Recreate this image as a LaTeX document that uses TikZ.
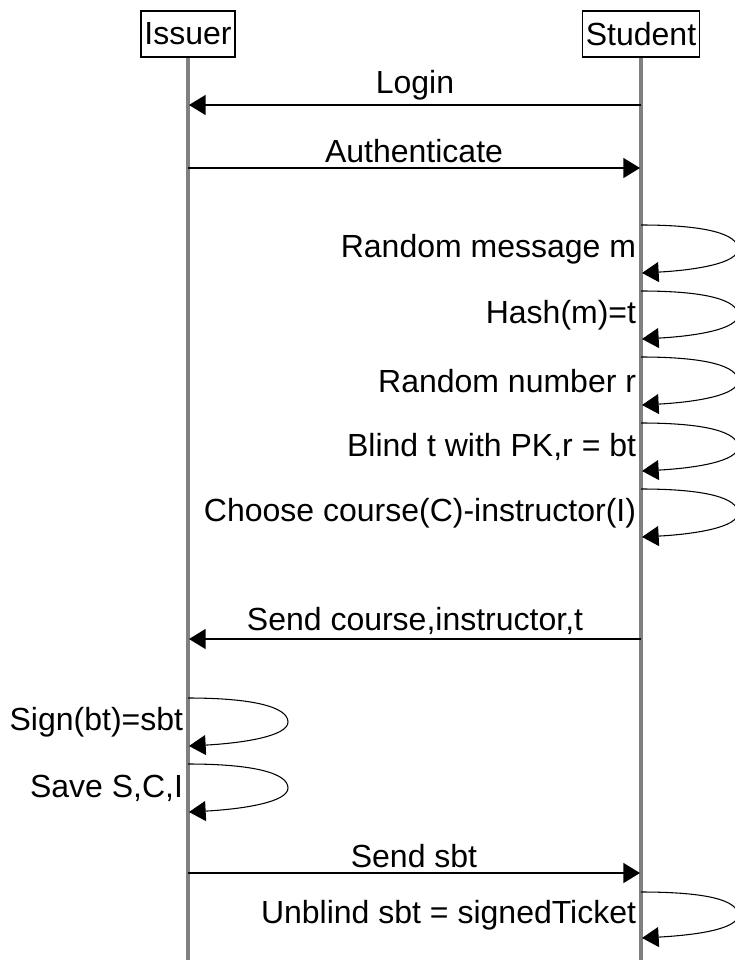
\documentclass[tikz,border=0pt]{standalone}
\usepackage{fontspec}
\setmainfont{Liberation Sans}
\usetikzlibrary{arrows.meta}

\begin{document}
\begin{tikzpicture}[x=0.75pt,y=0.75pt,yscale=-1,xscale=1,
        font=\fontsize{24}{28}\selectfont,
        actor/.style={draw,line width=1.1pt,inner xsep=2.5pt,inner ysep=0pt,minimum height=34.5pt},
        lifeline/.style={draw=gray,line width=2.3pt},
        msg/.style={line width=1.1pt,-{Triangle[length=12.5pt,width=15pt]}},
        selfmsg/.style={line width=0.8pt,-{Triangle[length=12.5pt,width=15pt]}},
        msglabel/.style={above,inner sep=3pt},
        looplabel/.style={anchor=east,inner sep=2pt}]
        \useasboundingbox (0,0) rectangle (735,960);

        %Actors
        \node[actor] (issuer) at (188,34) {Issuer};
        \node[actor] (student) at (641,34) {Student};
        %Lifelines
        \coordinate (issuerend) at (188,962);
        \coordinate (studentend) at (641,962);
        \draw[lifeline] (issuer.south) -- (issuerend);
        \draw[lifeline] (student.south) -- (studentend);

        %Message: Login
        \coordinate (loginS) at (641,105);
        \coordinate (loginI) at (189,105);
        \draw[msg] (loginS) -- node[msglabel] (login) {Login} (loginI);
        %Message: Authenticate
        \coordinate (authI) at (188,168);
        \coordinate (authS) at (640,168);
        \draw[msg] (authI) -- node[msglabel] (auth) {Authenticate} (authS);

        %Self Message: Random message m
        \coordinate (rmTop) at (641,225);
        \coordinate (rmOut) at (738,249);
        \coordinate (rmEnd) at (642,273);
        \draw[selfmsg] (rmTop) .. controls +(65,0) and +(0,-15) .. (rmOut) .. controls +(0,14) and +(55,-3) .. (rmEnd);
        \node[looplabel] (rm) at (639,249) {Random message m};
        %Self Message: Hash
        \coordinate (hashTop) at (641,291);
        \coordinate (hashOut) at (738,315);
        \coordinate (hashEnd) at (642,339);
        \draw[selfmsg] (hashTop) .. controls +(65,0) and +(0,-15) .. (hashOut) .. controls +(0,14) and +(55,-3) .. (hashEnd);
        \node[looplabel] (hash) at (639,315) {Hash(m)=t};
        %Self Message: Random number r
        \coordinate (rnTop) at (641,357);
        \coordinate (rnOut) at (738,381);
        \coordinate (rnEnd) at (642,405);
        \draw[selfmsg] (rnTop) .. controls +(65,0) and +(0,-15) .. (rnOut) .. controls +(0,14) and +(55,-3) .. (rnEnd);
        \node[looplabel] (rn) at (639,381) {Random number r};
        %Self Message: Blind
        \coordinate (blindTop) at (641,423);
        \coordinate (blindOut) at (738,447);
        \coordinate (blindEnd) at (642,471);
        \draw[selfmsg] (blindTop) .. controls +(65,0) and +(0,-15) .. (blindOut) .. controls +(0,14) and +(55,-3) .. (blindEnd);
        \node[looplabel] (blind) at (639,447) {Blind t with PK,r = bt};
        %Self Message: Choose
        \coordinate (chooseTop) at (641,489);
        \coordinate (chooseOut) at (738,513);
        \coordinate (chooseEnd) at (642,537);
        \draw[selfmsg] (chooseTop) .. controls +(65,0) and +(0,-15) .. (chooseOut) .. controls +(0,14) and +(55,-3) .. (chooseEnd);
        \node[looplabel] (choose) at (639,513) {Choose course(C)-instructor(I)};

        %Message: Send course
        \coordinate (sendS) at (641,639);
        \coordinate (sendI) at (189,639);
        \draw[msg] (sendS) -- node[msglabel] (send) {Send course,instructor,t} (sendI);

        %Self Message: Sign
        \coordinate (signTop) at (188,698);
        \coordinate (signOut) at (288,722);
        \coordinate (signEnd) at (189,746);
        \draw[selfmsg] (signTop) .. controls +(65,0) and +(0,-15) .. (signOut) .. controls +(0,14) and +(55,-3) .. (signEnd);
        \node[looplabel] (sign) at (186,722) {Sign(bt)=sbt};
        %Self Message: Save
        \coordinate (saveTop) at (188,764);
        \coordinate (saveOut) at (288,788);
        \coordinate (saveEnd) at (189,812);
        \draw[selfmsg] (saveTop) .. controls +(65,0) and +(0,-15) .. (saveOut) .. controls +(0,14) and +(55,-3) .. (saveEnd);
        \node[looplabel] (save) at (186,788) {Save S,C,I};

        %Message: Send sbt
        \coordinate (sbtI) at (188,873);
        \coordinate (sbtS) at (640,873);
        \draw[msg] (sbtI) -- node[msglabel] (sbt) {Send sbt} (sbtS);

        %Self Message: Unblind
        \coordinate (unbTop) at (641,892);
        \coordinate (unbOut) at (738,915);
        \coordinate (unbEnd) at (642,938);
        \draw[selfmsg] (unbTop) .. controls +(65,0) and +(0,-15) .. (unbOut) .. controls +(0,14) and +(55,-3) .. (unbEnd);
        \node[looplabel] (unb) at (639,915) {Unblind sbt = signedTicket};

\end{tikzpicture}
\end{document}
